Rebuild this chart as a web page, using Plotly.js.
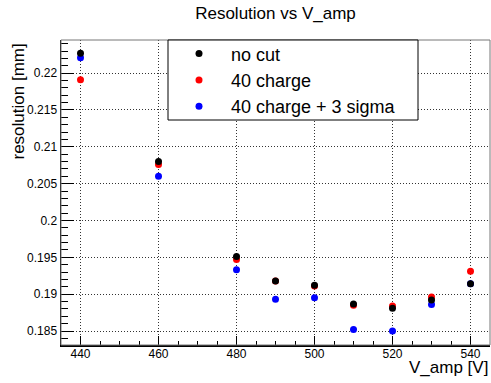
<!DOCTYPE html>
<html>
<head>
<meta charset="utf-8">
<script src="https://cdn.plot.ly/plotly-3.0.1.min.js"></script>
<style>
  html, body { margin: 0; padding: 0; background: #fff; }
  #chart { width: 491px; height: 383px; }
</style>
</head>
<body>
<div id="chart"></div>
<script>
// Data
const vAmp = [440, 460, 480, 490, 500, 510, 520, 530, 540];
const noCut = [0.2227, 0.2080, 0.1951, 0.1918, 0.1912, 0.18865, 0.1881, 0.1892, 0.1914];
const charge40 = [0.2191, 0.2076, 0.1947, 0.1918, 0.1911, 0.1885, 0.1884, 0.1896, 0.1931];
const charge40Sigma3 = [0.2221, 0.2060, 0.1933, 0.1893, 0.1895, 0.1852, 0.1850, 0.1886, 0.1914];
const seriesNames = ['no cut', '40 charge', '40 charge + 3 sigma'];
const seriesColors = ['#000000', '#ff0000', '#0000ff'];

const font = 'Liberation Sans, Arial, sans-serif';

function mk(y, i, group) {
  return {
    type: 'scatter', mode: 'markers', x: vAmp, y: y, name: seriesNames[i],
    legendgroup: group,
    marker: { color: seriesColors[i], size: 7, line: { width: 0 } },
    hoverinfo: 'x+y'
  };
}

// draw order: blue, red, black (black on top)
const traces = [
  mk(charge40Sigma3, 2, 'c'),
  mk(charge40, 1, 'b'),
  mk(noCut, 0, 'a')
];

const W = 491, H = 383;
const L = 61, R = 1, T = 40, B = 38;
const pw = W - L - R, ph = H - T - B;

const layout = {
  width: W, height: H,
  margin: { l: L, r: R, t: T, b: B, pad: 0 },
  paper_bgcolor: '#ffffff', plot_bgcolor: '#ffffff',
  font: { family: font, color: '#000', size: 12 },
  showlegend: true,
  title: {
    text: 'Resolution vs V_amp',
    font: { family: font, size: 17, color: '#000' },
    xref: 'paper', x: 0.5, xanchor: 'center',
    yref: 'container', y: 1 - 13 / H, yanchor: 'middle'
  },
  xaxis: {
    range: [435, 545],
    dtick: 20, tick0: 440,
    ticks: 'inside', ticklen: 9, tickwidth: 1, tickcolor: '#000',
    minor: { dtick: 5, ticks: 'inside', ticklen: 4.5, tickwidth: 1, tickcolor: '#000', showgrid: false },
    showgrid: true, gridcolor: '#333', griddash: '1px,2px', gridwidth: 1,
    showline: true, linecolor: '#000', linewidth: 1.5,
    zeroline: false,
    ticklabelstandoff: -3,
    tickfont: { family: font, size: 12, color: '#000' },
    fixedrange: true
  },
  yaxis: {
    range: [0.1831, 0.2245],
    dtick: 0.005, tick0: 0.185,
    tickformat: '~g',
    ticks: 'inside', ticklen: 12.5, tickwidth: 1, tickcolor: '#000',
    minor: { dtick: 0.001, ticks: 'inside', ticklen: 6.5, tickwidth: 1, tickcolor: '#000', showgrid: false },
    showgrid: true, gridcolor: '#333', griddash: '1px,2px', gridwidth: 1,
    showline: true, linecolor: '#000', linewidth: 1.5,
    zeroline: false,
    tickfont: { family: font, size: 12, color: '#000' },
    fixedrange: true
  },
  legend: {
    traceorder: 'reversed',
    x: (167 - L) / pw, xanchor: 'left',
    y: 1 + (T - 35.3) / ph, yanchor: 'top',
    bgcolor: 'rgba(255,255,255,0)',
    borderwidth: 0,
    itemwidth: 54,
    tracegroupgap: 6,
    font: { family: font, size: 18, color: '#000' }
  },
  shapes: [
    { type: 'rect', xref: 'paper', yref: 'paper', x0: 0, x1: 1, y0: 0, y1: 1,
      line: { color: '#777', width: 1 }, fillcolor: 'rgba(0,0,0,0)', layer: 'above' },
    { type: 'rect', xref: 'paper', yref: 'paper',
      x0: (168 - L) / pw, x1: (418 - L) / pw, y0: (H - B - 120) / ph, y1: 1,
      line: { color: '#000', width: 1 }, fillcolor: '#ffffff', layer: 'above' }
  ],
  annotations: [
    { text: 'resolution [mm]', textangle: -90, showarrow: false,
      xref: 'paper', yref: 'paper', x: (17.5 - L) / pw, xanchor: 'center',
      y: 1 - 2 / ph, yanchor: 'top',
      font: { family: font, size: 17, color: '#000' } },
    { text: 'V_amp [V]', showarrow: false,
      xref: 'paper', yref: 'paper', x: 1, xanchor: 'right',
      y: -(367 - (H - B)) / ph, yanchor: 'middle',
      font: { family: font, size: 17, color: '#000' } }
  ]
};

Plotly.newPlot('chart', traces, layout, { displayModeBar: false, staticPlot: true });
</script>
</body>
</html>
